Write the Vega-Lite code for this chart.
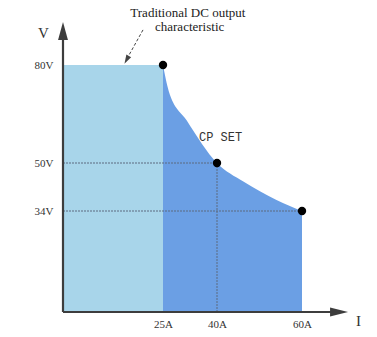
{
  "$schema": "https://vega.github.io/schema/vega-lite/v6.json",
  "width": 314,
  "height": 312,
  "autosize": "none",
  "padding": {"left": 63, "top": 0, "right": 0, "bottom": 25},
  "background": "white",
  "config": {"view": {"stroke": null}},
  "layer": [
    {
      "data": {"values": [{"I": 0, "V": 80}, {"I": 25, "V": 80}]},
      "mark": {"type": "area", "color": "#a8d5ea", "opacity": 1},
      "encoding": {
        "x": {
          "field": "I", "type": "quantitative",
          "scale": {"domain": [0, 25, 40, 60, 77.6], "range": [0, 100, 154, 239, 314], "nice": false, "zero": false},
          "axis": {
            "values": [25, 40, 60], "labelExpr": "datum.value + 'A'",
            "domain": false, "ticks": false, "grid": false,
            "labelFont": "Liberation Serif", "labelFontSize": 11, "labelColor": "#333333", "labelPadding": 6,
            "title": "I", "titleFont": "Liberation Serif", "titleFontSize": 15, "titleFontWeight": "normal",
            "titleColor": "#333333", "titleX": 295, "titleY": 1, "titleBaseline": "top", "titleAlign": "center"
          }
        },
        "y": {
          "field": "V", "type": "quantitative",
          "scale": {"domain": [0, 34, 50, 80, 100], "range": [312, 211, 163, 65, 0], "nice": false, "zero": false},
          "axis": {
            "values": [34, 50, 80], "labelExpr": "datum.value + 'V'",
            "domain": false, "ticks": false, "grid": false,
            "labelFont": "Liberation Serif", "labelFontSize": 11, "labelColor": "#333333", "labelPadding": 10,
            "title": "V", "titleFont": "Liberation Serif", "titleFontSize": 15, "titleFontWeight": "normal",
            "titleColor": "#333333", "titleAngle": 0, "titleX": -20, "titleY": 32, "titleBaseline": "middle", "titleAlign": "center"
          }
        }
      }
    },
    {
      "data": {"values": [
        {"I": 25, "V": 80}, {"I": 26.6, "V": 72}, {"I": 31.6, "V": 63}, {"I": 40, "V": 50},
        {"I": 46.2, "V": 43.8}, {"I": 54, "V": 37.7}, {"I": 60, "V": 34}
      ]},
      "mark": {"type": "area", "color": "#6b9fe4", "opacity": 1, "interpolate": "monotone"},
      "encoding": {
        "x": {"field": "I", "type": "quantitative"},
        "y": {"field": "V", "type": "quantitative"}
      }
    },
    {
      "data": {"values": [
        {"I": 0, "V": 50, "I2": 40, "V2": 50},
        {"I": 0, "V": 34, "I2": 60, "V2": 34},
        {"I": 40, "V": 0, "I2": 40, "V2": 50}
      ]},
      "mark": {"type": "rule", "color": "#5d6b80", "strokeWidth": 1, "strokeDash": [2, 1]},
      "encoding": {
        "x": {"field": "I", "type": "quantitative"},
        "y": {"field": "V", "type": "quantitative"},
        "x2": {"field": "I2"},
        "y2": {"field": "V2"}
      }
    },
    {
      "data": {"values": [
        {"I": 0, "V": 0, "I2": 0, "V2": 90.5},
        {"I": 0, "V": 0, "I2": 68.7, "V2": 0}
      ]},
      "mark": {"type": "rule", "color": "#3d3d3d", "strokeWidth": 2.2},
      "encoding": {
        "x": {"field": "I", "type": "quantitative"},
        "y": {"field": "V", "type": "quantitative"},
        "x2": {"field": "I2"},
        "y2": {"field": "V2"}
      }
    },
    {
      "data": {"values": [{"I": 0, "V": 90.5}]},
      "mark": {"type": "point", "shape": "M0,-1L0.55,1L-0.55,1Z", "size": 324, "filled": true, "color": "#3d3d3d", "opacity": 1},
      "encoding": {
        "x": {"field": "I", "type": "quantitative"},
        "y": {"field": "V", "type": "quantitative"}
      }
    },
    {
      "data": {"values": [{"I": 68.7, "V": 0}]},
      "mark": {"type": "point", "shape": "M1,0L-1,-0.5L-1,0.5Z", "size": 324, "filled": true, "color": "#3d3d3d", "opacity": 1},
      "encoding": {
        "x": {"field": "I", "type": "quantitative"},
        "y": {"field": "V", "type": "quantitative"}
      }
    },
    {
      "data": {"values": [{"I": 20, "V": 90.8, "I2": 15.8, "V2": 81.5}]},
      "mark": {"type": "rule", "color": "#444444", "strokeWidth": 1, "strokeDash": [3, 2]},
      "encoding": {
        "x": {"field": "I", "type": "quantitative"},
        "y": {"field": "V", "type": "quantitative"},
        "x2": {"field": "I2"},
        "y2": {"field": "V2"}
      }
    },
    {
      "data": {"values": [{"I": 15.9, "V": 81.6}]},
      "mark": {"type": "point", "shape": "M0,1L0.6,-1L-0.6,-1Z", "size": 81, "angle": 28.6, "filled": true, "color": "#444444", "opacity": 1},
      "encoding": {
        "x": {"field": "I", "type": "quantitative"},
        "y": {"field": "V", "type": "quantitative"}
      }
    },
    {
      "data": {"values": [{"I": 25, "V": 80}, {"I": 40, "V": 50}, {"I": 60, "V": 34}]},
      "mark": {"type": "point", "shape": "circle", "size": 70, "filled": true, "color": "#000000", "opacity": 1},
      "encoding": {
        "x": {"field": "I", "type": "quantitative"},
        "y": {"field": "V", "type": "quantitative"}
      }
    },
    {
      "data": {"values": [{"I": 35, "V": 58, "label": "CP SET"}]},
      "mark": {"type": "text", "font": "Liberation Mono", "fontSize": 12, "color": "#333333", "align": "left", "baseline": "middle"},
      "encoding": {
        "x": {"field": "I", "type": "quantitative"},
        "y": {"field": "V", "type": "quantitative"},
        "text": {"field": "label"}
      }
    },
    {
      "data": {"values": [
        {"I": 31.9, "V": 96, "label": "Traditional DC output"},
        {"I": 32.4, "V": 91.7, "label": "characteristic"}
      ]},
      "mark": {"type": "text", "font": "Liberation Serif", "fontSize": 13, "color": "#222222", "align": "center", "baseline": "middle"},
      "encoding": {
        "x": {"field": "I", "type": "quantitative"},
        "y": {"field": "V", "type": "quantitative"},
        "text": {"field": "label"}
      }
    }
  ]
}
